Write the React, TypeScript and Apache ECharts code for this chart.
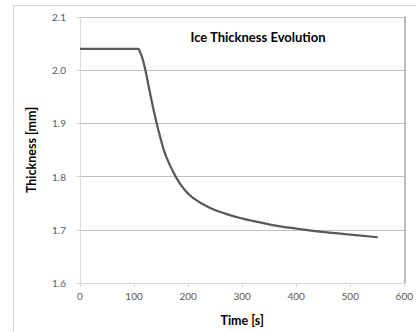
import React, { useEffect, useRef } from "react";
import * as echarts from "echarts";

const times = [0, 107, 111, 115, 121, 129, 138, 150, 160, 177, 193, 209, 239, 270, 301, 331, 365, 405, 435, 466, 510, 551];
const thickness = [2.04, 2.04, 2.034, 2.024, 2.0, 1.96, 1.917, 1.868, 1.836, 1.8, 1.776, 1.76, 1.742, 1.73, 1.721, 1.7145, 1.7075, 1.7015, 1.6975, 1.694, 1.69, 1.686];
const xTicks = [0, 100, 200, 300, 400, 500, 600];
const yTicks = [1.6, 1.7, 1.8, 1.9, 2.0, 2.1];

const FONT = "Lato, 'Open Sans', sans-serif";

export default function App() {
  const ref = useRef<HTMLDivElement>(null);
  useEffect(() => {
    if (!ref.current) return;
    const chart = echarts.init(ref.current, null, { renderer: "svg" });
    const data = times.map((t, i) => [t, thickness[i]]);
    chart.setOption({
      animation: false,
      backgroundColor: "#ffffff",
      grid: { left: 80, right: 10, top: 17, bottom: 43 },
      graphic: [
        {
          type: "rect",
          shape: { x: 13.5, y: 5.5, width: 420, height: 340 },
          style: { fill: "none", stroke: "#d9d9d9", lineWidth: 1 },
          z: -1,
        },
        {
          type: "text",
          x: 258,
          y: 37,
          style: {
            text: "Ice Thickness Evolution",
            fontFamily: FONT,
            fontWeight: "bold",
            fontSize: 13,
            fill: "#000000",
            textAlign: "center",
            textVerticalAlign: "middle",
          },
        },
      ],
      xAxis: {
        type: "value",
        min: 0,
        max: 600,
        interval: 100,
        name: "Time [s]",
        nameLocation: "middle",
        nameGap: 31,
        nameTextStyle: { fontFamily: FONT, fontWeight: "bold", fontSize: 12.5, color: "#000" },
        axisLine: { show: true, lineStyle: { color: "#d9d9d9", width: 1 } },
        axisTick: { show: true, length: 4, lineStyle: { color: "#d9d9d9" } },
        axisLabel: {
          fontFamily: FONT,
          fontSize: 10,
          color: "#595959",
          margin: 8,
          formatter: (v: number) => (xTicks.includes(v) ? String(v) : ""),
        },
        splitLine: { show: false },
      },
      yAxis: [
        {
          type: "value",
          min: 1.6,
          max: 2.1,
          interval: 0.1,
          name: "Thickness [mm]",
          nameLocation: "middle",
          nameGap: 42,
          nameRotate: 90,
          nameTextStyle: { fontFamily: FONT, fontWeight: "bold", fontSize: 12.5, color: "#000" },
          axisLine: { show: true, lineStyle: { color: "#d9d9d9", width: 1 } },
          axisTick: { show: true, length: 4, lineStyle: { color: "#d9d9d9" } },
          axisLabel: {
            fontFamily: FONT,
            fontSize: 10,
            color: "#595959",
            margin: 14,
            formatter: (v: number) => {
              const m = yTicks.find((t) => Math.abs(t - v) < 1e-6);
              return m !== undefined ? m.toFixed(1) : "";
            },
          },
          splitLine: { show: true, lineStyle: { color: "#c0c0c0", width: 1 } },
        },
        {
          type: "value",
          position: "right",
          min: 1.6,
          max: 2.1,
          interval: 0.1,
          axisLine: { show: true, lineStyle: { color: "#a6a6a6", width: 1.5 } },
          axisTick: { show: false },
          axisLabel: { show: false },
          splitLine: { show: false },
        },
      ],
      series: [
        {
          type: "line",
          data,
          yAxisIndex: 0,
          smooth: 0.5,
          showSymbol: false,
          symbol: "none",
          lineStyle: { color: "#595959", width: 2.25 },
        },
      ],
    });
    return () => chart.dispose();
  }, []);
  return <div ref={ref} style={{ width: 416, height: 332, position: "absolute", left: 0, top: 0 }} />;
}
